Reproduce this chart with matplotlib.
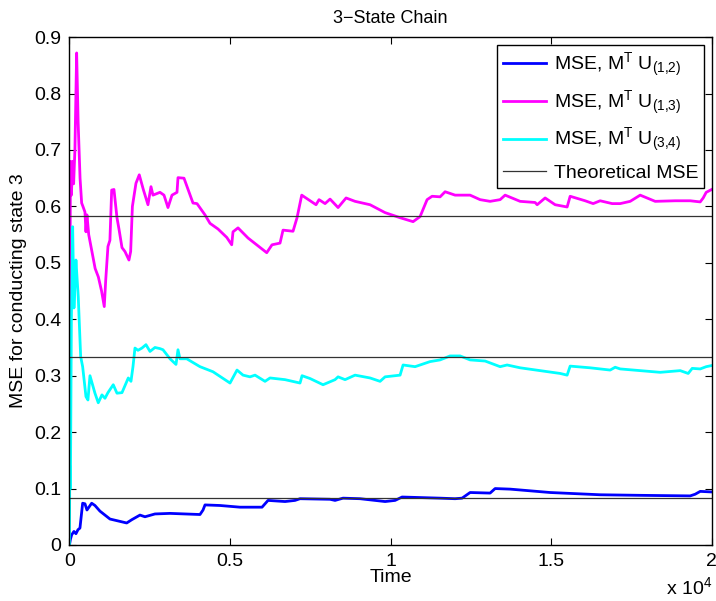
import matplotlib
matplotlib.use("Agg")
import matplotlib.pyplot as plt
from matplotlib.ticker import FuncFormatter
import numpy as np

plt.rcParams['font.family'] = ['Liberation Sans', 'DejaVu Sans']
plt.rcParams['mathtext.fontset'] = 'custom'
plt.rcParams['mathtext.rm'] = 'Liberation Sans'
plt.rcParams['mathtext.it'] = 'Liberation Sans'

# MSE, M^T U_(1,2)  (blue)
t_12 = [0, 30, 69, 140, 202, 265, 327, 411, 483, 545,
        692, 794, 950, 1262, 1782, 1947, 2196, 2352, 2663, 3131,
        4065, 4160, 4221, 4688, 5311, 5997, 6184, 6713, 7024, 7180,
        8115, 8271, 8520, 9050, 9829, 10140, 10358, 11542, 12009, 12227,
        12476, 13099, 13255, 13722, 14969, 16526, 17773, 19330, 19486, 19642,
        20000]
mse_12 = [0.0, 0.01, 0.018, 0.024, 0.02, 0.027, 0.03, 0.074, 0.073, 0.062,
          0.074, 0.07, 0.06, 0.046, 0.039, 0.045, 0.053, 0.05, 0.055, 0.056,
          0.054, 0.062, 0.071, 0.07, 0.067, 0.067, 0.079, 0.077, 0.079, 0.082,
          0.081, 0.079, 0.083, 0.082, 0.077, 0.079, 0.085, 0.083, 0.082, 0.083,
          0.093, 0.092, 0.1, 0.099, 0.093, 0.089, 0.088, 0.087, 0.09, 0.095,
          0.094]

# MSE, M^T U_(1,3)  (magenta)
t_13 = [0, 30, 60, 100, 130, 170, 224, 270, 330, 380,
        420, 483, 514, 545, 600, 700, 800, 900, 1000, 1084,
        1130, 1199, 1260, 1315, 1386, 1480, 1542, 1636, 1729, 1853,
        1906, 1960, 2071, 2174, 2300, 2445, 2539, 2601, 2819, 2944,
        3068, 3193, 3349, 3380, 3567, 3847, 3972, 4221, 4377, 4626,
        4900, 5053, 5093, 5249, 5561, 6143, 6308, 6557, 6651, 6962,
        7087, 7233, 7679, 7772, 7960, 8115, 8365, 8614, 8894, 9361,
        9829, 10296, 10701, 10919, 11137, 11293, 11542, 11698, 12009, 12476,
        12788, 13099, 13411, 13567, 14034, 14501, 14564, 14813, 15125, 15498,
        15592, 16059, 16308, 16526, 16900, 17150, 17461, 17773, 18240, 18863,
        19330, 19642, 19735, 19829, 20000]
mse_13 = [0.07, 0.68, 0.62, 0.68, 0.64, 0.70, 0.872, 0.75, 0.65, 0.606,
          0.60, 0.59, 0.555, 0.585, 0.55, 0.52, 0.49, 0.475, 0.45, 0.4225,
          0.47, 0.529, 0.54, 0.629, 0.63, 0.58, 0.56, 0.527, 0.52, 0.505,
          0.52, 0.60, 0.641, 0.656, 0.63, 0.603, 0.635, 0.62, 0.625, 0.62,
          0.598, 0.62, 0.625, 0.651, 0.65, 0.606, 0.605, 0.585, 0.57, 0.56,
          0.545, 0.532, 0.555, 0.562, 0.544, 0.518, 0.532, 0.535, 0.558, 0.556,
          0.58, 0.62, 0.603, 0.612, 0.605, 0.613, 0.598, 0.615, 0.609, 0.603,
          0.589, 0.58, 0.573, 0.582, 0.612, 0.618, 0.617, 0.626, 0.62, 0.62,
          0.612, 0.609, 0.612, 0.62, 0.609, 0.607, 0.603, 0.615, 0.603, 0.599,
          0.618, 0.61, 0.605, 0.61, 0.605, 0.605, 0.609, 0.62, 0.609, 0.61,
          0.61, 0.608, 0.615, 0.625, 0.63]

# MSE, M^T U_(3,4)  (cyan)
t_34 = [0, 10, 30, 60, 100, 140, 202, 240, 274, 349,
        411, 514, 576, 639, 794, 897, 1012, 1106, 1199, 1364,
        1480, 1636, 1832, 1916, 1978, 2040, 2134, 2258, 2383, 2508,
        2663, 2819, 2913, 3131, 3318, 3380, 3442, 3651, 4065, 4470,
        5000, 5218, 5405, 5623, 5779, 6090, 6246, 6713, 7180, 7243,
        7492, 7897, 8271, 8365, 8583, 8894, 9361, 9673, 9829, 10140,
        10296, 10389, 10763, 11230, 11542, 11853, 12165, 12476, 12944, 13411,
        13629, 14034, 14657, 15280, 15498, 15592, 16215, 16838, 16994, 17150,
        17773, 18396, 19019, 19268, 19393, 19642, 19829, 20000]
mse_34 = [0.0, 0.14, 0.10, 0.40, 0.564, 0.42, 0.505, 0.47, 0.44, 0.334,
          0.316, 0.263, 0.257, 0.30, 0.269, 0.252, 0.266, 0.26, 0.27, 0.284,
          0.269, 0.27, 0.296, 0.29, 0.316, 0.349, 0.345, 0.349, 0.355, 0.343,
          0.35, 0.348, 0.346, 0.33, 0.32, 0.346, 0.33, 0.33, 0.316, 0.307,
          0.287, 0.31, 0.301, 0.298, 0.301, 0.29, 0.296, 0.293, 0.287, 0.30,
          0.295, 0.284, 0.293, 0.298, 0.293, 0.301, 0.296, 0.29, 0.298, 0.30,
          0.301, 0.319, 0.316, 0.325, 0.328, 0.335, 0.335, 0.328, 0.326, 0.316,
          0.319, 0.314, 0.309, 0.304, 0.301, 0.317, 0.314, 0.31, 0.315, 0.312,
          0.309, 0.306, 0.309, 0.304, 0.313, 0.312, 0.316, 0.318]

theoretical = [1 / 12, 1 / 3, 7 / 12]

fig = plt.figure(figsize=(7.16, 6.01), dpi=100)
ax = fig.add_axes([0.097, 0.0932, 0.897, 0.845])

ax.plot(t_12, mse_12, color='#0000ff', lw=2.0, label=r'MSE, M$^{\rm T}$ U$_{(1{,}2)}$')
ax.plot(t_13, mse_13, color='#ff00ff', lw=2.0, label=r'MSE, M$^{\rm T}$ U$_{(1{,}3)}$')
ax.plot(t_34, mse_34, color='#00ffff', lw=2.0, label=r'MSE, M$^{\rm T}$ U$_{(3{,}4)}$')
for i, th in enumerate(theoretical):
    ax.axhline(th, color='#333333', lw=0.9, label='Theoretical MSE' if i == 0 else None)

ax.set_xlim(0, 20000)
ax.set_ylim(0, 0.9)
ax.set_xticks(np.arange(0, 20001, 5000))
ax.set_yticks(np.arange(0, 0.91, 0.1))
ax.xaxis.set_major_formatter(FuncFormatter(lambda v, p: '%g' % (v / 1e4)))
ax.yaxis.set_major_formatter(FuncFormatter(lambda v, p: '%g' % round(v, 1)))
ax.tick_params(direction='in', top=True, right=True, length=5, labelsize=14, pad=6)
for s in ax.spines.values():
    s.set_linewidth(1.0)

ax.set_title('3\u2212State Chain', fontsize=13, pad=10)
ax.set_xlabel('Time', fontsize=14, labelpad=-1)
ax.set_ylabel('MSE for conducting state 3', fontsize=14, labelpad=5)
ax.text(1.0, -0.062, r'x 10$^{4}$', transform=ax.transAxes, ha='right', va='top', fontsize=14)

leg = ax.legend(loc='upper right', fontsize=14, frameon=True, fancybox=False,
                edgecolor='black', framealpha=1, handlelength=2.2,
                borderaxespad=0.4, labelspacing=0.5, handletextpad=0.4,
                borderpad=0.3)
leg.get_frame().set_linewidth(1.0)

fig.savefig('out.png', dpi=100)
